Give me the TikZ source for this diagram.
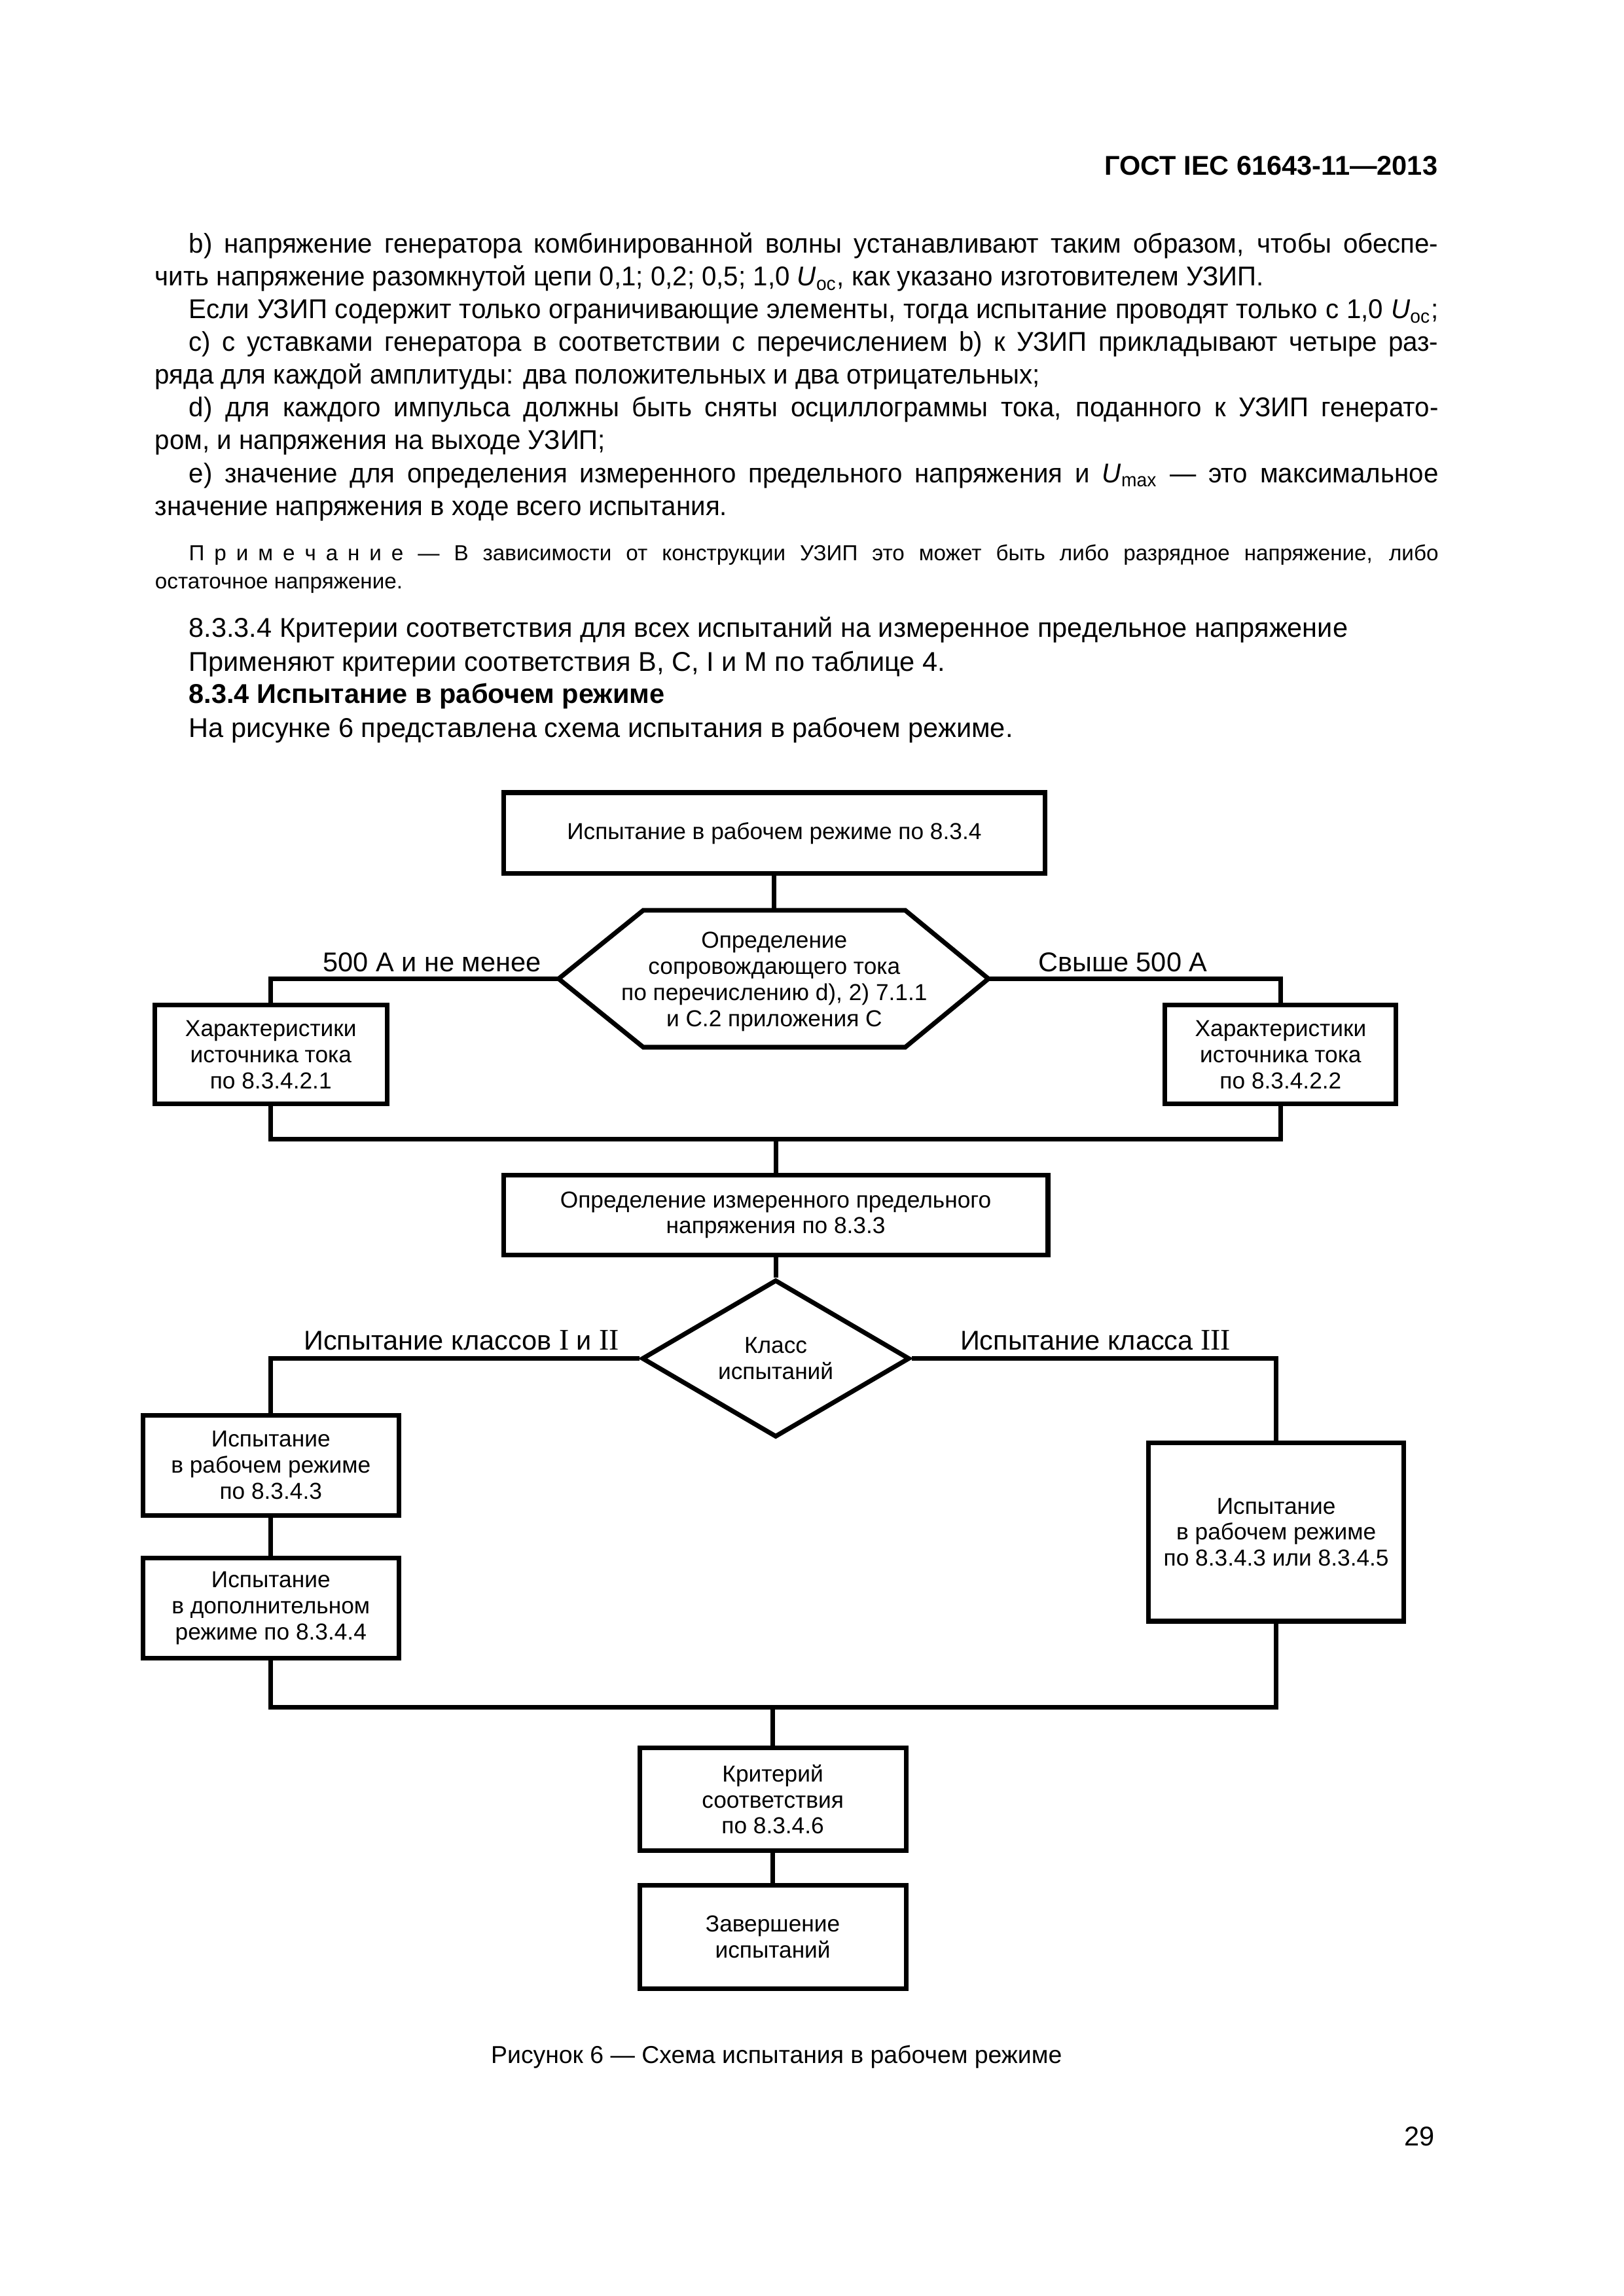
\documentclass[tikz,border=0pt]{standalone}
\usepackage{fontspec}
\setmainfont{Liberation Sans}
\newfontfamily\romfont{Liberation Serif}
\newfontfamily\itemfont[FakeStretch=0.97]{Liberation Sans}
\usetikzlibrary{shapes.geometric,positioning}
\newcommand\pxu{0.019039cm}
\newlength\wfull \setlength\wfull{16.164cm}
\newcommand\Uoc{\textit{U}\textsubscript{oc}}
\newcommand\Umax{\textit{U}\textsubscript{max}}

\begin{document}
\begin{tikzpicture}[x=\pxu, y=-\pxu,
                    body/.style={anchor=base west, inner sep=0pt, font=\fontsize{10}{12}\selectfont},
                    item/.style={anchor=base west, inner sep=0pt, font=\itemfont\fontsize{10}{12}\selectfont},
                    note/.style={anchor=base west, inner sep=0pt, font=\fontsize{8}{10}\selectfont},
                    blk/.style={draw, line width=1.7pt, align=center, inner sep=1pt, font=\fontsize{8.5}{9.6}\selectfont},
                    cond/.style={diamond, draw, line width=1.7pt, align=center, inner sep=0pt, font=\fontsize{8.5}{9.6}\selectfont},
                    branch/.style={inner sep=0pt, font=\fontsize{10}{12}\selectfont},
                    edge/.style={line width=1.7pt},
                   ]

\fill[white] (0,0) rectangle (1103,1560);
\useasboundingbox (0,0) rectangle (1103,1560);

% page text
\node[anchor=base east, inner sep=0pt, font=\fontsize{10}{12}\selectfont\bfseries] (head) at (977,119) {ГОСТ IEC 61643-11—2013};

\node[item] (p1) at (128,172) {\makebox[\wfull][s]{b) напряжение генератора комбинированной волны устанавливают таким образом, чтобы обеспе-}};
\node[item] (p2) at (105,194.25) {чить напряжение разомкнутой цепи 0,1; 0,2; 0,5; 1,0 \Uoc, как указано изготовителем УЗИП.};
\node[item] (p3) at (128,216.5) {\makebox[\wfull][s]{Если УЗИП содержит только ограничивающие элементы, тогда испытание проводят только с 1,0 \Uoc;}};
\node[item] (p4) at (128,238.75) {\makebox[\wfull][s]{c) с уставками генератора в соответствии с перечислением b) к УЗИП прикладывают четыре раз-}};
\node[item] (p5) at (105,261) {ряда для каждой амплитуды: два положительных и два отрицательных;};
\node[item] (p6) at (128,283.25) {\makebox[\wfull][s]{d) для каждого импульса должны быть сняты осциллограммы тока, поданного к УЗИП генерато-}};
\node[item] (p7) at (105,305.5) {ром, и напряжения на выходе УЗИП;};
\node[item] (p8) at (128,327.75) {\makebox[\wfull][s]{e) значение для определения измеренного предельного напряжения и \Umax{} — это максимальное}};
\node[item] (p9) at (105,350) {значение напряжения в ходе всего испытания.};

\node[note] (n1) at (128,381) {\makebox[\wfull][s]{П\kern.45em р\kern.45em и\kern.45em м\kern.45em е\kern.45em ч\kern.45em а\kern.45em н\kern.45em и\kern.45em е — В зависимости от конструкции УЗИП это может быть либо разрядное напряжение, либо}};
\node[note] (n2) at (105,400) {остаточное напряжение.};

\node[body] (p10) at (128,433) {8.3.3.4 Критерии соответствия для всех испытаний на измеренное предельное напряжение};
\node[body] (p11) at (128,456) {Применяют критерии соответствия B, C, I и M по таблице 4.};
\node[body, font=\fontsize{10}{12}\selectfont\bfseries] (p12) at (128,478) {8.3.4 Испытание в рабочем режиме};
\node[body] (p13) at (128,501) {На рисунке 6 представлена схема испытания в рабочем режиме.};

% flow chart
\node[blk, minimum width=7.006cm, minimum height=1.047cm] (top) at (526,566) {Испытание в рабочем режиме по 8.3.4};

\node[inner sep=0pt, align=center, font=\fontsize{8.5}{9.6}\selectfont] (detect) at (526,667) {Определение\\сопровождающего тока\\по перечислению d), 2) 7.1.1\\и С.2 приложения С};
\coordinate (detT) at (526,618.5);
\coordinate (detL) at (379.5,665);
\coordinate (detR) at (671.5,665);
\draw[edge] (437,618.5) -- (615,618.5) -- (detR) -- (615,711.5) -- (437,711.5) -- (detL) -- cycle;

\node[blk, minimum width=3.008cm, minimum height=1.276cm] (srcA) at (184,716.5) {Характеристики\\источника тока\\по 8.3.4.2.1};
\node[blk, minimum width=2.989cm, minimum height=1.276cm] (srcB) at (870,716.5) {Характеристики\\источника тока\\по 8.3.4.2.2};

\node[blk, minimum width=7.044cm, minimum height=1.028cm] (meas) at (527,825.5) {Определение измеренного предельного\\напряжения по 8.3.3};

\node[cond, minimum width=3.465cm, minimum height=1.923cm] (cls) at (527,923) {Класс\\испытаний};

\node[blk, minimum width=3.313cm, minimum height=1.295cm] (run1) at (184,995.5) {Испытание\\в рабочем режиме\\по 8.3.4.3};
\node[blk, minimum width=3.313cm, minimum height=1.295cm] (run2) at (184,1092.5) {Испытание\\в дополнительном\\режиме по 8.3.4.4};
\node[blk, minimum width=3.303cm, minimum height=2.304cm] (run3) at (867,1041) {Испытание\\в рабочем режиме\\по 8.3.4.3 или 8.3.4.5};

\node[blk, minimum width=3.446cm, minimum height=1.333cm] (crit) at (525,1222.5) {Критерий\\соответствия\\по 8.3.4.6};
\node[blk, minimum width=3.446cm, minimum height=1.333cm] (fin) at (525,1316) {Завершение\\испытаний};

% branch labels
\node[branch, anchor=base east] (lowI) at (368,660) {500 А и не менее};
\node[branch, anchor=base west] (highI) at (705,660) {Свыше 500 А};
\node[branch, anchor=base east] (clsL) at (421,917) {Испытание классов {\romfont\fontsize{11}{12}\selectfont I} и {\romfont\fontsize{11}{12}\selectfont II}};
\node[branch, anchor=base west] (clsR) at (652,917) {Испытание класса {\romfont\fontsize{11}{12}\selectfont III}};

% connectors
\coordinate (jA) at (184,774);
\coordinate (jB) at (184,1160);

\draw[edge] (top.south) -- (detT);
\draw[edge] (detL) -| (srcA.north);
\draw[edge] (detR) -| (srcB.north);
\draw[edge] (srcA.south) -- (jA) -| (srcB.south);
\draw[edge] (meas.north) -- (meas.north |- jA);
\draw[edge] (meas.south) -- (cls.north);
\draw[edge] (cls.west) -| (run1.north);
\draw[edge] (cls.east) -| (run3.north);
\draw[edge] (run1.south) -- (run2.north);
\draw[edge] (run2.south) -- (jB) -| (run3.south);
\draw[edge] (crit.north) -- (crit.north |- jB);
\draw[edge] (crit.south) -- (fin.north);

\node[anchor=base, inner sep=0pt, font=\fontsize{9}{12}\selectfont] (caption) at (527.5,1402) {Рисунок 6 — Схема испытания в рабочем режиме};
\node[anchor=base east, inner sep=0pt, font=\fontsize{10}{12}\selectfont] (pagenum) at (975,1458) {29};

\end{tikzpicture}
\end{document}
